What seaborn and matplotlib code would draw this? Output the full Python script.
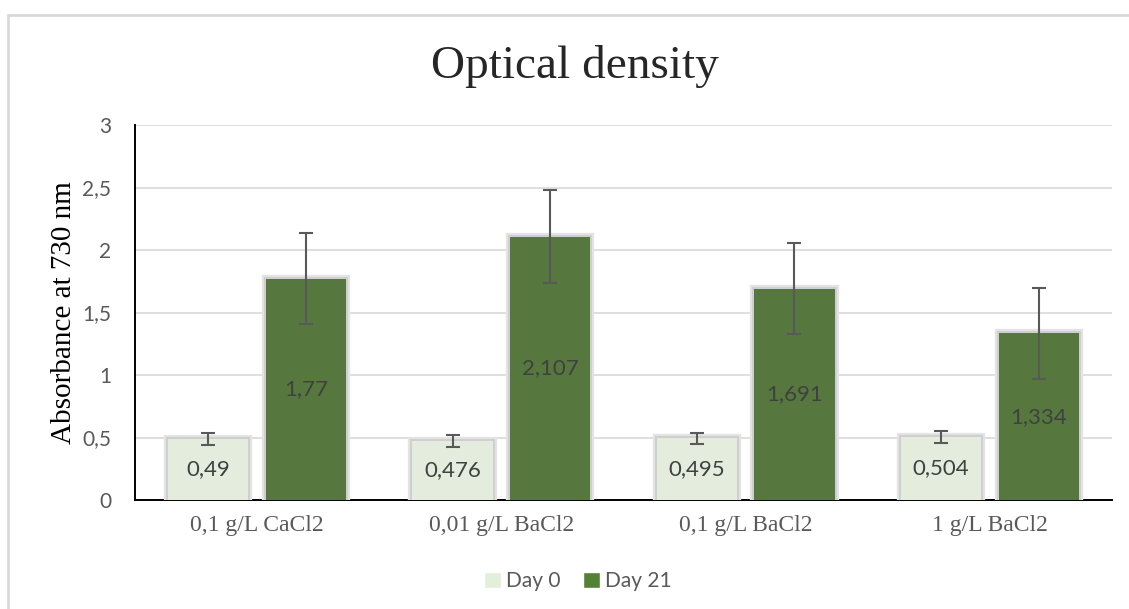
import pandas as pd
import matplotlib.pyplot as plt
import matplotlib.patheffects as pe
from matplotlib.patches import Rectangle, Patch
import seaborn as sns

# Datos
condiciones = ["0,1 g/L CaCl2", "0,01 g/L BaCl2", "0,1 g/L BaCl2", "1 g/L BaCl2"]
series = ["Day 0", "Day 21"]
dia0 = [0.49, 0.476, 0.495, 0.504]
dia21 = [1.77, 2.107, 1.691, 1.334]
err0 = [0.05, 0.048, 0.045, 0.045]
err21 = [0.365, 0.37, 0.365, 0.365]
yticks = [0, 0.5, 1, 1.5, 2, 2.5, 3]
ytick_labels = ["0", "0,5", "1", "1,5", "2", "2,5", "3"]

colores = {"Day 0": "#E2EFDA", "Day 21": "#548235"}
gris = "#595959"

df = pd.DataFrame({
    "condicion": condiciones * 2,
    "serie": [series[0]] * 4 + [series[1]] * 4,
    "valor": dia0 + dia21,
})

sns.set_style("white")
plt.rcParams["font.family"] = ["Lato", "DejaVu Sans"]

fig = plt.figure(figsize=(11.29, 6.09), dpi=100)
ax = fig.add_axes([135 / 1129, 109 / 609, 977 / 1129, 375 / 609])

sns.barplot(data=df, x="condicion", y="valor", hue="serie", palette=colores,
            errorbar=None, width=0.8, gap=0.18, ax=ax, legend=False, zorder=3)

# Sombra suave alrededor de las barras
sombra = [pe.Stroke(linewidth=6, foreground="#e4e4e4"),
          pe.Stroke(linewidth=3, foreground="#cfcfcf"),
          pe.Normal()]
errores = [err0, err21]
for cont, errs in zip(ax.containers, errores):
    xs, ys = [], []
    for bar in cont:
        bar.set_path_effects(sombra)
        bar.set_linewidth(0)
        xs.append(bar.get_x() + bar.get_width() / 2)
        ys.append(bar.get_height())
    ax.errorbar(xs, ys, yerr=errs, fmt="none", ecolor=gris, elinewidth=1.5,
                capsize=5, capthick=1.5, zorder=5)
    etiquetas = [f"{v:g}".replace(".", ",") for v in ys]
    ax.bar_label(cont, labels=etiquetas, label_type="center", color="#404040",
                 fontsize=16, zorder=6)

ax.set_ylim(0, 3)
ax.set_xlim(-0.5, 3.5)
ax.set_yticks(yticks)
ax.set_yticklabels(ytick_labels, color=gris, fontsize=15)
ax.yaxis.grid(True, color="#d9d9d9", linewidth=1.2, zorder=0)
ax.set_axisbelow(True)
ax.tick_params(axis="y", length=0, pad=17)

ax.set_xticks(range(4))
ax.set_xticklabels(condiciones, family="Liberation Serif", fontsize=17, color=gris)
ax.set_xticks([-0.5, 0.5, 1.5, 2.5, 3.5], minor=True)
ax.tick_params(axis="x", which="major", length=0, pad=11)
ax.tick_params(axis="x", which="minor", length=6, width=1.5, direction="out", color="black")

ax.set_xlabel("")
ax.set_ylabel("Absorbance at 730 nm", family="Liberation Serif", fontsize=21,
              color="black", labelpad=4)

for lado in ["top", "right"]:
    ax.spines[lado].set_visible(False)
for lado in ["left", "bottom"]:
    ax.spines[lado].set_color("black")
    ax.spines[lado].set_linewidth(1.4)

fig.text(0.509, 0.89, "Optical density", family="Liberation Serif", fontsize=34,
         ha="center", va="center")

handles = [Patch(facecolor=colores[s], label=s) for s in series]
fig.legend(handles=handles, loc="center", bbox_to_anchor=(0.512, 0.046), ncol=2,
           frameon=False, fontsize=15, labelcolor=gris, handlelength=0.8,
           handleheight=0.8, handletextpad=0.25, columnspacing=1.1)

# Marco exterior del gráfico
marco = Rectangle((8 / 1129, -0.1), 1.2, (609 - 15) / 609 + 0.1, transform=fig.transFigure,
                  fill=False, edgecolor="#d9d9d9", linewidth=2)
fig.patches.append(marco)

fig.savefig("out.png", dpi=100)
